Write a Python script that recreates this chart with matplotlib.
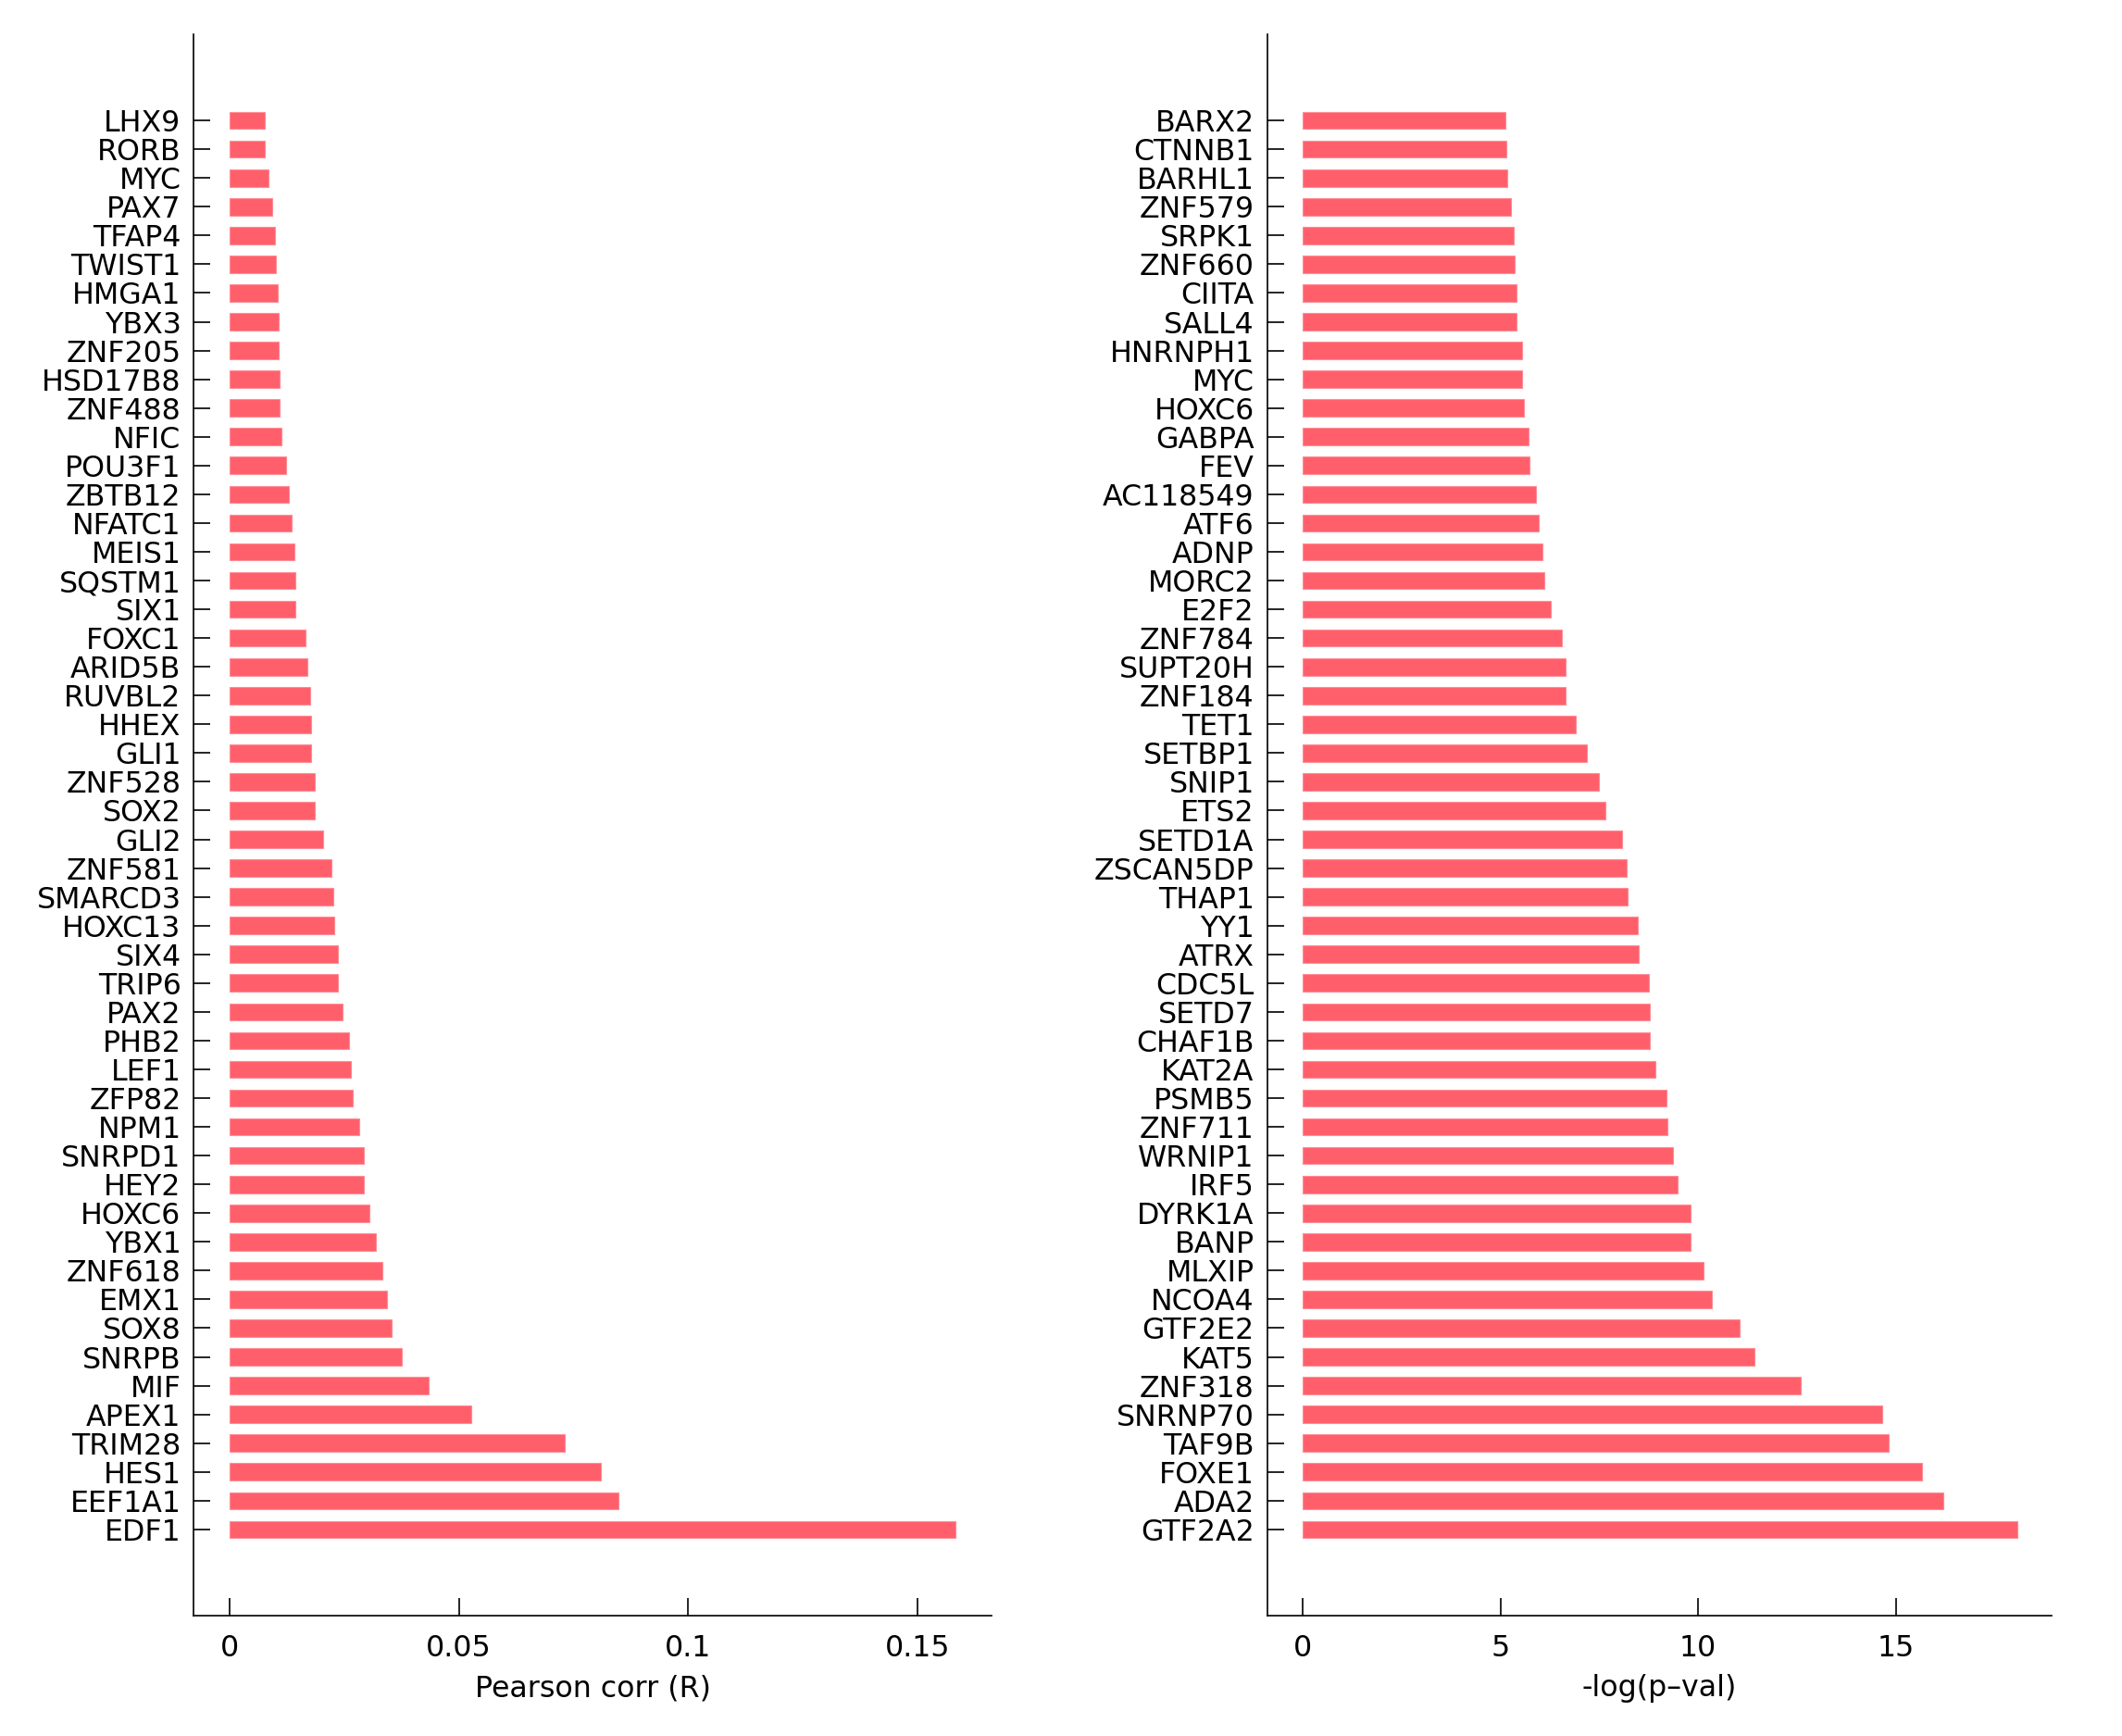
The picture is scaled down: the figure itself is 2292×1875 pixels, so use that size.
import matplotlib
matplotlib.use("Agg")
import matplotlib.pyplot as plt
import numpy as np

# Left panel: Pearson correlation (top to bottom)
corr_genes = ["LHX9", "RORB", "MYC", "PAX7", "TFAP4", "TWIST1", "HMGA1", "YBX3",
              "ZNF205", "HSD17B8", "ZNF488", "NFIC", "POU3F1", "ZBTB12", "NFATC1",
              "MEIS1", "SQSTM1", "SIX1", "FOXC1", "ARID5B", "RUVBL2", "HHEX", "GLI1",
              "ZNF528", "SOX2", "GLI2", "ZNF581", "SMARCD3", "HOXC13", "SIX4", "TRIP6",
              "PAX2", "PHB2", "LEF1", "ZFP82", "NPM1", "SNRPD1", "HEY2", "HOXC6",
              "YBX1", "ZNF618", "EMX1", "SOX8", "SNRPB", "MIF", "APEX1", "TRIM28",
              "HES1", "EEF1A1", "EDF1"]
corr_vals = [0.00765, 0.00765, 0.0085, 0.00935, 0.00978, 0.01006, 0.01048, 0.01063,
             0.01063, 0.01091, 0.01091, 0.0112, 0.01224, 0.01292, 0.01349,
             0.01406, 0.01428, 0.01428, 0.01655, 0.01689, 0.01757, 0.01768, 0.01768,
             0.01848, 0.01848, 0.02029, 0.0221, 0.02267, 0.02278, 0.02358, 0.02369,
             0.0246, 0.02596, 0.02652, 0.02686, 0.02834, 0.02936, 0.02936, 0.03049,
             0.03197, 0.03321, 0.03423, 0.03537, 0.03752, 0.04341, 0.05271, 0.07311,
             0.08093, 0.08479, 0.15824]

# Right panel: -log(p-val) (top to bottom)
pval_genes = ["BARX2", "CTNNB1", "BARHL1", "ZNF579", "SRPK1", "ZNF660", "CIITA", "SALL4",
              "HNRNPH1", "MYC", "HOXC6", "GABPA", "FEV", "AC118549", "ATF6", "ADNP",
              "MORC2", "E2F2", "ZNF784", "SUPT20H", "ZNF184", "TET1", "SETBP1", "SNIP1",
              "ETS2", "SETD1A", "ZSCAN5DP", "THAP1", "YY1", "ATRX", "CDC5L", "SETD7",
              "CHAF1B", "KAT2A", "PSMB5", "ZNF711", "WRNIP1", "IRF5", "DYRK1A", "BANP",
              "MLXIP", "NCOA4", "GTF2E2", "KAT5", "ZNF318", "SNRNP70", "TAF9B", "FOXE1",
              "ADA2", "GTF2A2"]
pval_vals = [5.12, 5.16, 5.18, 5.28, 5.33, 5.37, 5.40, 5.40,
             5.54, 5.56, 5.60, 5.71, 5.73, 5.91, 5.96, 6.07,
             6.11, 6.27, 6.56, 6.66, 6.66, 6.90, 7.19, 7.49,
             7.66, 8.08, 8.20, 8.22, 8.47, 8.51, 8.75, 8.79,
             8.79, 8.93, 9.21, 9.22, 9.37, 9.49, 9.80, 9.81,
             10.13, 10.35, 11.05, 11.42, 12.60, 14.65, 14.81, 15.66,
             16.21, 18.06]

BAR_COLOR = "#FF5F6B"
EDGE_COLOR = "#FF8C95"
FS = 11.4


def draw_panel(ax, genes, vals, xlim, xticks, xticklabels, xlabel):
    y = np.arange(len(genes))
    ax.barh(y, vals, height=0.6, color=BAR_COLOR, edgecolor=EDGE_COLOR, linewidth=0.4)
    ax.set_yticks(y)
    ax.set_yticklabels(genes, fontsize=FS)
    ax.set_ylim(len(genes) + 2, -3)
    ax.set_xlim(*xlim)
    ax.set_xticks(xticks)
    ax.set_xticklabels(xticklabels, fontsize=FS)
    ax.set_xlabel(xlabel, fontsize=FS, labelpad=4.5)
    ax.spines["top"].set_visible(False)
    ax.spines["right"].set_visible(False)
    ax.spines["left"].set_linewidth(0.6)
    ax.spines["bottom"].set_linewidth(0.6)
    ax.tick_params(axis="y", direction="in", length=6.5, width=0.6, pad=5)
    ax.tick_params(axis="x", direction="in", length=6.7, width=0.6, pad=7)


fig = plt.figure(figsize=(11.46, 9.375), dpi=200)
ax1 = fig.add_axes([0.0914, 0.0693, 0.3759, 0.911])
ax2 = fig.add_axes([0.5971, 0.0693, 0.3698, 0.911])

draw_panel(ax1, corr_genes, corr_vals, (-0.0078, 0.1662),
           [0, 0.05, 0.1, 0.15], ["0", "0.05", "0.1", "0.15"], "Pearson corr (R)")
draw_panel(ax2, pval_genes, pval_vals, (-0.897, 18.94),
           [0, 5, 10, 15], ["0", "5", "10", "15"], "-log(p\u2013val)")

fig.savefig("out.png", dpi=200)
